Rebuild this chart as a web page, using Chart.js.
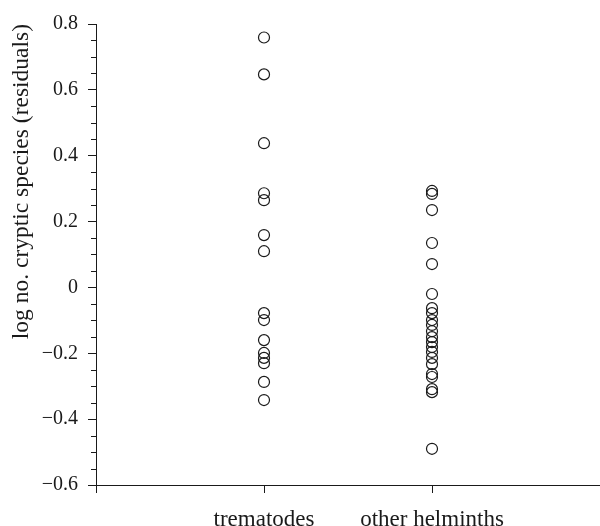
<!DOCTYPE html>
<html>
<head>
<meta charset="utf-8">
<script src="https://cdn.jsdelivr.net/npm/chart.js@4.4.1/dist/chart.umd.min.js"></script>
<style>
  html, body { margin: 0; padding: 0; background: #fff; overflow: hidden; }
  #wrap { width: 600px; height: 526px; position: relative; }
  #grafica { display: block; }
</style>
</head>
<body>
<div id="wrap"><canvas id="grafica"></canvas></div>
<script>
// =================== Datos ===================

// Categorías del eje X (posición 1 y 2 en una escala lineal de 0 a 3)
const categorias = ["trematodes", "other helminths"];

// Residuales
const trematodos = [0.759, 0.647, 0.438, 0.286, 0.265, 0.159, 0.110,
  -0.078, -0.099, -0.160, -0.199, -0.214, -0.230, -0.287, -0.342];

const otrosHelmintos = [0.293, 0.284, 0.235, 0.135, 0.071, -0.020, -0.063,
  -0.078, -0.099, -0.114, -0.133, -0.151, -0.166, -0.181, -0.196, -0.214,
  -0.233, -0.263, -0.272, -0.309, -0.318, -0.490];

// Marcas del eje Y
const yMin = -0.6, yMax = 0.8, yPaso = 0.2, yPasoMenor = 0.05;

const SERIF = "'Liberation Serif', 'DejaVu Serif', serif";
const NEGRO = "#1a1a1a";

// Formato de etiquetas con signo menos tipográfico
function fmt(v) {
  const r = Math.round(v * 10) / 10;
  if (r === 0) return "0";
  return r < 0 ? "\u2212" + Math.abs(r).toFixed(1) : r.toFixed(1);
}

// Marcas menores del eje Y (dibujadas con la escala de Chart.js)
const marcasMenores = {
  id: "marcasMenores",
  afterDraw(chart) {
    const y = chart.scales.y;
    const ctx = chart.ctx;
    const x0 = chart.chartArea.left;
    ctx.save();
    ctx.strokeStyle = NEGRO;
    ctx.lineWidth = 1;
    const n = Math.round((yMax - yMin) / yPasoMenor);
    for (let i = 0; i <= n; i++) {
      if (i % 4 === 0) continue;
      const py = Math.round(y.getPixelForValue(yMin + i * yPasoMenor)) + 0.5;
      ctx.beginPath();
      ctx.moveTo(x0 - 5, py);
      ctx.lineTo(x0, py);
      ctx.stroke();
    }
    ctx.restore();
  }
};

const puntos = (arr, pos) => arr.map(v => ({ x: pos, y: v }));

new Chart(document.getElementById("grafica"), {
  type: "scatter",
  data: {
    datasets: [
      { data: puntos(trematodos, 1) },
      { data: puntos(otrosHelmintos, 2) }
    ].map(d => Object.assign(d, {
      pointStyle: "circle",
      pointRadius: 5.5,
      pointHoverRadius: 5.5,
      borderWidth: 1.2,
      borderColor: NEGRO,
      backgroundColor: "rgba(0,0,0,0)"
    }))
  },
  options: {
    responsive: true,
    maintainAspectRatio: false,
    animation: false,
    layout: { autoPadding: false, padding: { top: 24, right: 0, left: 0, bottom: 0 } },
    plugins: { legend: { display: false }, tooltip: { enabled: false } },
    scales: {
      x: {
        type: "linear",
        min: 0, max: 3,
        afterFit(s) { s.height = 41; s.paddingLeft = 0; s.paddingRight = 0; },
        ticks: {
          stepSize: 1,
          autoSkip: false,
          maxRotation: 0,
          padding: 13,
          color: NEGRO,
          font: { family: SERIF, size: 23 },
          callback: (v) => categorias[v - 1] || ""
        },
        grid: { drawOnChartArea: false, tickLength: 8, color: NEGRO, tickWidth: 1 },
        border: { display: true, color: NEGRO, width: 1 }
      },
      y: {
        min: yMin, max: yMax,
        afterFit(s) { s.width = 96; },
        ticks: {
          stepSize: yPaso,
          padding: 10,
          color: NEGRO,
          font: { family: SERIF, size: 20 },
          callback: (v) => fmt(v)
        },
        grid: { drawOnChartArea: false, tickLength: 8, color: NEGRO, tickWidth: 1 },
        border: { display: true, color: NEGRO, width: 1 },
        title: {
          display: true,
          align: "end",
          text: "log no. cryptic species (residuals)",
          color: NEGRO,
          font: { family: SERIF, size: 23.5 },
          padding: { top: 8, bottom: 4 }
        }
      }
    }
  },
  plugins: [marcasMenores]
});
</script>
</body>
</html>
